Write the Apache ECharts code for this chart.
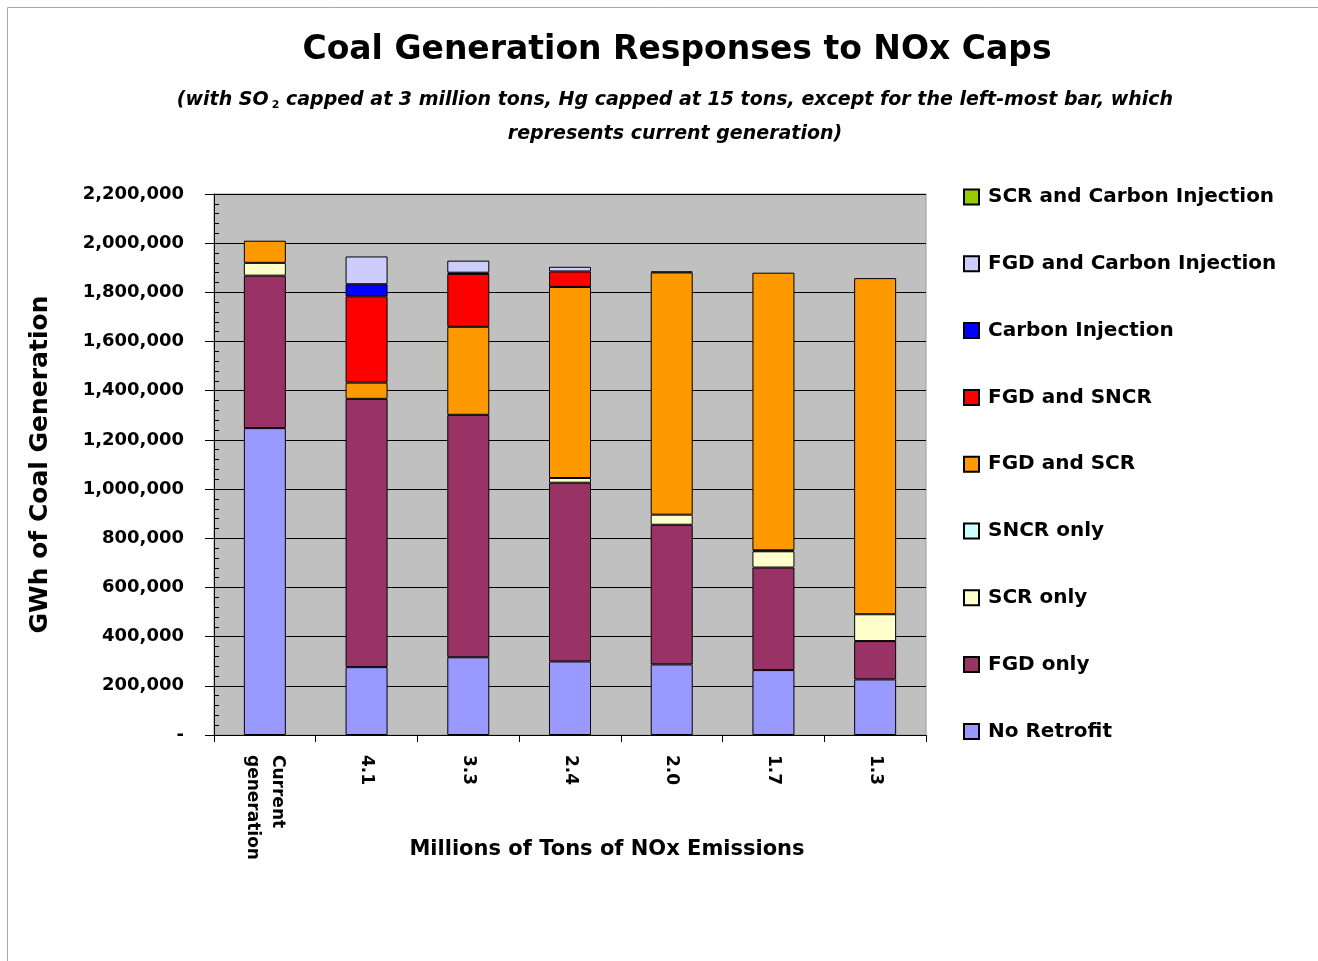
<!DOCTYPE html>
<html>
<head>
<meta charset="utf-8">
<title>Coal Generation Responses to NOx Caps</title>
<script src="https://cdn.jsdelivr.net/npm/echarts@6/dist/echarts.min.js"></script>
<style>
  html, body { margin: 0; padding: 0; background: #fff; }
  #chart { width: 1318px; height: 961px; }
</style>
</head>
<body>
<div id="chart"></div>
<script>
  // categories (x axis)
  const categories = ['Current\ngeneration', '4.1', '3.3', '2.4', '2.0', '1.7', '1.3'];

  // GWh per retrofit type, stacked bottom -> top (null = not present)
  const noRetrofit = [1248000, 276000, 316000, 299000, 287000, 264000, 226000];
  const fgdOnly    = [620000, 1091000, 986000, 727000, 568000, 417000, 156000];
  const scrOnly    = [52000, null, null, 19000, 41000, 66000, 109000];
  const sncrOnly   = [null, null, null, null, null, 4000, null];
  const fgdScr     = [90000, 66000, 358000, 777000, 985000, 1129000, 1367000];
  const fgdSncr    = [null, 351000, 215000, 63000, 4000, null, null];
  const carbonInj  = [null, 49000, 5000, null, null, null, null];
  const fgdCarbon  = [null, 113000, 49000, 19000, null, null, null];
  const scrCarbon  = [null, null, null, null, null, null, null];

  // y axis ticks
  const yMax = 2200000;
  const yStep = 200000;

  const chart = echarts.init(document.getElementById('chart'));

  const stackDefs = [
    ['No Retrofit', noRetrofit, '#9999FF'],
    ['FGD only', fgdOnly, '#993366'],
    ['SCR only', scrOnly, '#FFFFCC'],
    ['SNCR only', sncrOnly, '#CCFFFF'],
    ['FGD and SCR', fgdScr, '#FF9900'],
    ['FGD and SNCR', fgdSncr, '#FF0000'],
    ['Carbon Injection', carbonInj, '#0000FF'],
    ['FGD and Carbon Injection', fgdCarbon, '#CCCCFF'],
    ['SCR and Carbon Injection', scrCarbon, '#99CC00']
  ];

  const series = stackDefs.map(function (d) {
    return {
      name: d[0],
      type: 'bar',
      stack: 'gen',
      barWidth: 42,
      data: d[1],
      itemStyle: { color: d[2], borderColor: '#000', borderWidth: 1 },
      emphasis: { disabled: true }
    };
  });

  const bold = 'DejaVu Sans';

  chart.setOption({
    animation: false,
    backgroundColor: '#fff',
    title: [
      {
        text: 'Coal Generation Responses to NOx Caps',
        left: 672, top: 29, textAlign: 'center',
        textStyle: { fontFamily: bold, fontWeight: 'bold', fontSize: 33, color: '#000' }
      },
      {
        text: '{i|(with SO}{s|2}{i| capped at 3 million tons, Hg capped at 15 tons, except for the left-most bar, which}\n{i|represents current generation)}',
        left: 670, top: 78, textAlign: 'center',
        textStyle: {
          rich: {
            i: { fontFamily: bold, fontWeight: 'bold', fontStyle: 'italic', fontSize: 19, color: '#000', lineHeight: 34 },
            s: { fontFamily: bold, fontWeight: 'bold', fontSize: 11, color: '#000', lineHeight: 34, padding: [10, 0, 0, 3] }
          }
        }
      }
    ],
    legend: {
      orient: 'vertical',
      left: 958, top: 181,
      itemWidth: 15, itemHeight: 15,
      itemGap: 44.8,
      icon: 'rect',
      data: stackDefs.map(function (d) { return d[0]; }).reverse(),
      textStyle: { fontFamily: bold, fontWeight: 'bold', fontSize: 20, color: '#000', lineHeight: 22, padding: [0, 0, 0, 4] }
    },
    grid: { left: 214, top: 194, width: 712, height: 541, show: true, backgroundColor: '#C0C0C0', borderColor: '#999', borderWidth: 1 },
    xAxis: {
      type: 'category',
      data: categories,
      name: 'Millions of Tons of NOx Emissions',
      nameLocation: 'middle',
      nameGap: 104,
      nameMoveOverlap: false,
      nameTextStyle: { fontFamily: bold, fontWeight: 'bold', fontSize: 21, color: '#000', padding: [0, 0, 0, 74] },
      axisLine: { lineStyle: { color: '#000', width: 1 } },
      axisTick: { show: true, length: 7, lineStyle: { color: '#000' } },
      axisLabel: { rotate: -90, margin: 20, fontFamily: bold, fontWeight: 'bold', fontSize: 17, color: '#000', lineHeight: 25 }
    },
    yAxis: [
      {
        type: 'value',
        min: 0, max: yMax, interval: yStep,
        name: 'GWh of Coal Generation',
        nameLocation: 'middle',
        nameGap: 161,
        nameMoveOverlap: false,
        nameRotate: 90,
        nameTextStyle: { fontFamily: bold, fontWeight: 'bold', fontSize: 25, color: '#000' },
        axisLine: { show: true, lineStyle: { color: '#000' } },
        axisTick: { show: true, length: 9, lineStyle: { color: '#000' } },
        axisLabel: {
          margin: 30,
          fontFamily: bold, fontWeight: 'bold', fontSize: 18, color: '#000',
          formatter: function (v) { return v === 0 ? '-' : v.toLocaleString('en-US'); }
        },
        splitLine: { show: true, lineStyle: { color: '#000', width: 1 } }
      },
      {
        // second copy of the scale, moved onto the left edge, only for the inward minor ticks
        type: 'value',
        min: 0, max: yMax, interval: yStep,
        position: 'right',
        offset: -712,
        axisLine: { show: false },
        axisLabel: { show: false },
        splitLine: { show: false },
        axisTick: { show: true, length: 5, lineStyle: { color: '#000' } },
        minorTick: { show: true, splitNumber: 5, length: 5, lineStyle: { color: '#000' } }
      }
    ],
    graphic: [
      {
        type: 'rect',
        shape: { x: 7.5, y: 7.5, width: 1330, height: 970 },
        style: { fill: 'none', stroke: '#a8a8a8', lineWidth: 1 },
        silent: true
      }
    ],
    series: series
  });
</script>
</body>
</html>
